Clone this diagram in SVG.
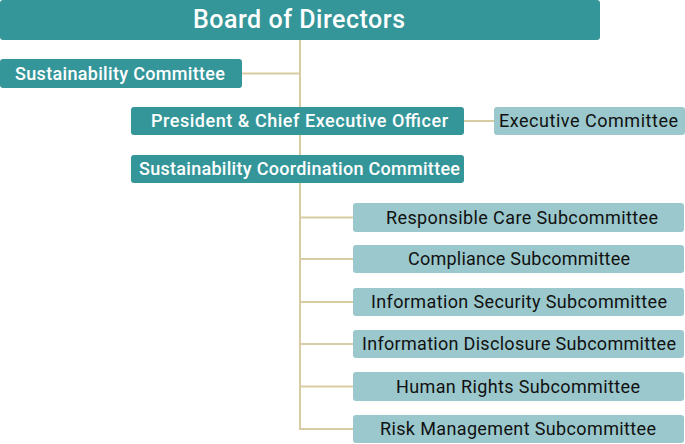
<svg xmlns="http://www.w3.org/2000/svg" width="685" height="444" viewBox="0 0 685 444">
<style>
.dark{fill:#35969A}
.light{fill:#9AC8CC}
.t{font-family:Roboto,"Liberation Sans",sans-serif;font-weight:400;text-anchor:middle;dominant-baseline:central}
.w{fill:#FFFFFF;font-size:18px;font-weight:500}
.k{fill:#111111;font-size:18px}
.c{stroke:#D8CCA5;stroke-width:2;fill:none}
</style>
<rect width="685" height="444" fill="#FFFFFF"/>
<g id="connectors">
<line class="c" x1="300" y1="40" x2="300" y2="430"/>
<line class="c" x1="242" y1="73.5" x2="300" y2="73.5"/>
<line class="c" x1="464" y1="121" x2="494" y2="121"/>
<line class="c" x1="299" y1="217.5" x2="353" y2="217.5"/>
<line class="c" x1="299" y1="259" x2="353" y2="259"/>
<line class="c" x1="299" y1="302" x2="353" y2="302"/>
<line class="c" x1="299" y1="344" x2="353" y2="344"/>
<line class="c" x1="299" y1="386.5" x2="353" y2="386.5"/>
<path class="c" d="M300 429 H353"/>
</g>
<g id="board"><rect class="dark" x="0" y="0" width="600" height="40" rx="3"/><text class="t w" x="299" y="19.5" style="font-size:25px" textLength="212" lengthAdjust="spacing">Board of Directors</text></g>
<g id="sustainability-committee"><rect class="dark" x="0" y="59" width="242" height="29" rx="3"/><text class="t w" x="120" y="73" textLength="210" lengthAdjust="spacing">Sustainability Committee</text></g>
<g id="president"><rect class="dark" x="131" y="107" width="333" height="28" rx="3"/><text class="t w" x="299.5" y="120.5" textLength="297" lengthAdjust="spacing">President &amp; Chief Executive Officer</text></g>
<g id="executive-committee"><rect class="light" x="494" y="107" width="191" height="28" rx="3"/><text class="t k" x="588.5" y="120.5" textLength="179" lengthAdjust="spacing">Executive Committee</text></g>
<g id="coordination"><rect class="dark" x="131" y="155" width="333" height="28" rx="3"/><text class="t w" x="299.5" y="168.5" textLength="321" lengthAdjust="spacing">Sustainability Coordination Committee</text></g>
<g id="responsible-care"><rect class="light" x="353" y="203" width="331" height="29" rx="3"/><text class="t k" x="522" y="217" textLength="272" lengthAdjust="spacing">Responsible Care Subcommittee</text></g>
<g id="compliance"><rect class="light" x="353" y="245" width="331" height="28" rx="3"/><text class="t k" x="519" y="258.5" textLength="222" lengthAdjust="spacing">Compliance Subcommittee</text></g>
<g id="information-security"><rect class="light" x="353" y="288" width="331" height="28" rx="3"/><text class="t k" x="519" y="301.5" textLength="296" lengthAdjust="spacing">Information Security Subcommittee</text></g>
<g id="information-disclosure"><rect class="light" x="353" y="330" width="331" height="28" rx="3"/><text class="t k" x="519" y="343.5" textLength="314" lengthAdjust="spacing">Information Disclosure Subcommittee</text></g>
<g id="human-rights"><rect class="light" x="353" y="372" width="331" height="29" rx="3"/><text class="t k" x="518" y="386" textLength="244" lengthAdjust="spacing">Human Rights Subcommittee</text></g>
<g id="risk-management"><rect class="light" x="353" y="415" width="331" height="28" rx="3"/><text class="t k" x="518" y="428.5" textLength="276" lengthAdjust="spacing">Risk Management Subcommittee</text></g>
</svg>
